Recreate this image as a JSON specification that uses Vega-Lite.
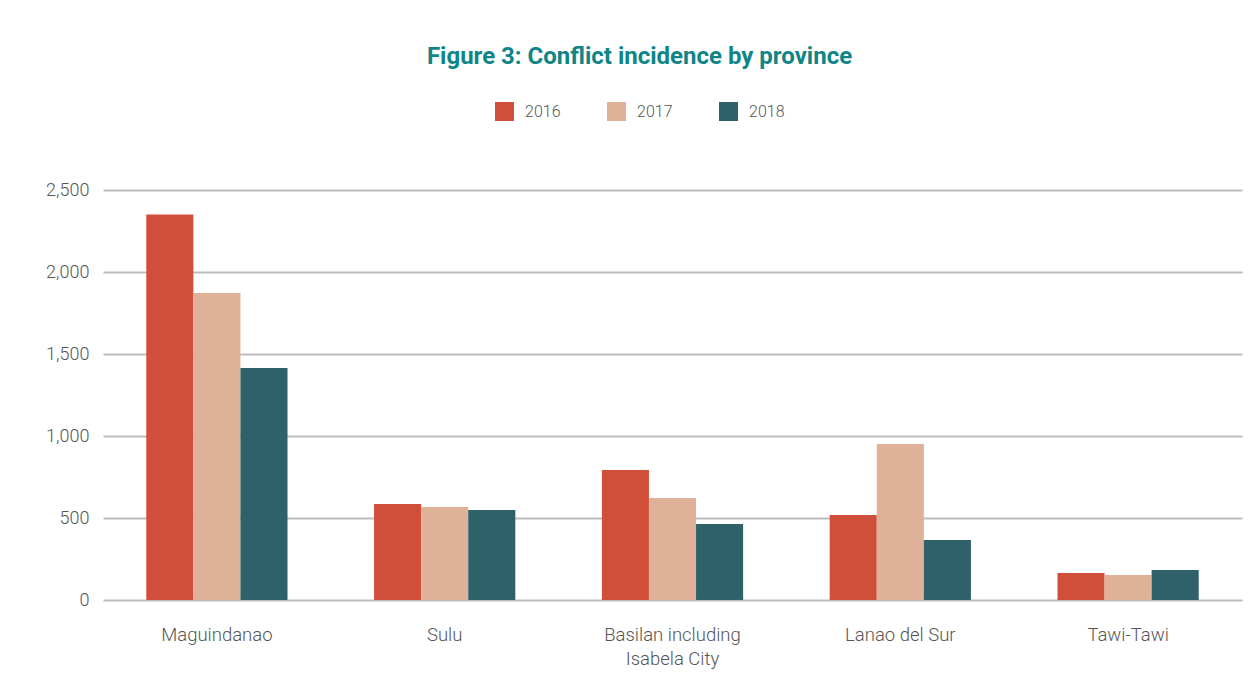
{
  "$schema": "https://vega.github.io/schema/vega-lite/v6.json",
  "autosize": "none",
  "width": 1139,
  "height": 410,
  "padding": {"left": 103, "top": 190, "right": 16, "bottom": 89},
  "background": "white",
  "title": {
    "text": "Figure 3: Conflict incidence by province",
    "font": "Roboto",
    "fontWeight": "bold",
    "fontSize": 24,
    "color": "#0f8587",
    "anchor": "middle",
    "dx": -33,
    "offset": 33
  },
  "data": {
    "values": [
      {"province": "Maguindanao", "year": "2016", "count": 2350},
      {"province": "Maguindanao", "year": "2017", "count": 1872},
      {"province": "Maguindanao", "year": "2018", "count": 1415},
      {"province": "Sulu", "year": "2016", "count": 585},
      {"province": "Sulu", "year": "2017", "count": 567},
      {"province": "Sulu", "year": "2018", "count": 549},
      {"province": "Basilan including Isabela City", "year": "2016", "count": 793},
      {"province": "Basilan including Isabela City", "year": "2017", "count": 622},
      {"province": "Basilan including Isabela City", "year": "2018", "count": 463},
      {"province": "Lanao del Sur", "year": "2016", "count": 518},
      {"province": "Lanao del Sur", "year": "2017", "count": 951},
      {"province": "Lanao del Sur", "year": "2018", "count": 366},
      {"province": "Tawi-Tawi", "year": "2016", "count": 165},
      {"province": "Tawi-Tawi", "year": "2017", "count": 152},
      {"province": "Tawi-Tawi", "year": "2018", "count": 183}
    ]
  },
  "mark": {"type": "bar"},
  "encoding": {
    "x": {
      "field": "province",
      "type": "nominal",
      "sort": null,
      "scale": {"paddingInner": 0.38, "paddingOuter": 0.19},
      "axis": {
        "title": null,
        "domain": false,
        "ticks": false,
        "labelAngle": 0,
        "labelFont": "Roboto",
        "labelFontWeight": 300,
        "labelFontSize": 18.5,
        "labelColor": "#555555",
        "labelPadding": 34,
        "labelLineHeight": 24,
        "labelBaseline": "middle",
        "labelLimit": 300,
        "labelExpr": "datum.label == 'Basilan including Isabela City' ? ['Basilan including', 'Isabela City'] : datum.label"
      }
    },
    "xOffset": {"field": "year", "type": "nominal", "scale": {"paddingInner": 0, "paddingOuter": 0}},
    "y": {
      "field": "count",
      "type": "quantitative",
      "scale": {"domain": [0, 2500]},
      "axis": {
        "title": null,
        "domain": false,
        "ticks": false,
        "values": [0, 500, 1000, 1500, 2000, 2500],
        "format": ",.0f",
        "labelFont": "Roboto",
        "labelFontWeight": 300,
        "labelFontSize": 18,
        "labelColor": "#555555",
        "labelPadding": 14,
        "gridColor": "#bdbdc1",
        "gridWidth": 2
      }
    },
    "color": {
      "field": "year",
      "type": "nominal",
      "scale": {"domain": ["2016", "2017", "2018"], "range": ["#cf4f3b", "#deb198", "#2e616a"]},
      "legend": {
        "title": null,
        "orient": "none",
        "direction": "horizontal",
        "legendX": 392,
        "legendY": -88,
        "symbolType": "square",
        "symbolSize": 361,
        "symbolStrokeWidth": 0,
        "symbolOpacity": 1,
        "labelFont": "Roboto",
        "labelFontWeight": 300,
        "labelFontSize": 16,
        "labelColor": "#555555",
        "labelOffset": 11,
        "columnPadding": 46
      }
    }
  },
  "config": {
    "view": {"stroke": null},
    "axis": {"gridColor": "#bdbdc1"}
  }
}
